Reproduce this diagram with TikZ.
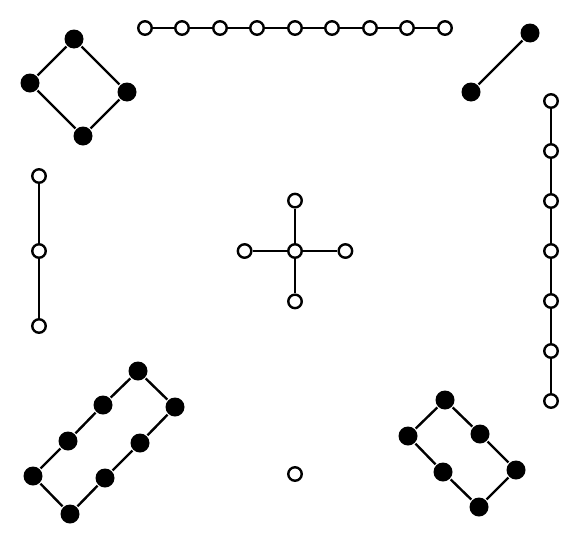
\documentclass[tikz,border=0pt]{standalone}
\usepackage{tikz}
\usetikzlibrary{positioning}

\begin{document}
\begin{tikzpicture}[x=1pt,y=-1pt,line width=2.4pt,
  wdot/.style={circle,draw,fill=white,inner sep=0pt,minimum size=13.5pt},
  bdot/.style={circle,fill=black,inner sep=0pt,minimum size=19pt}]
\useasboundingbox (0,0) rectangle (583,541);

% top row
\foreach \i/\x in {1/145,2/182,3/220,4/257,5/295,6/332,7/370,8/407,9/445}
  \node [wdot] (t\i) at (\x,28) {};
\foreach \i [evaluate=\i as \j using int(\i+1)] in {1,...,8}
  \draw (t\i) -- (t\j);

% right column
\foreach \i/\y in {1/101,2/151,3/201,4/251,5/301,6/351,7/401}
  \node [wdot] (r\i) at (551,\y) {};
\foreach \i [evaluate=\i as \j using int(\i+1)] in {1,...,6}
  \draw (r\i) -- (r\j);

% left column
\node [wdot] (l1) at (39,176) {};
\node [wdot] (l2) at (39,251) {};
\node [wdot] (l3) at (39,326) {};
\draw (l1) -- (l2) -- (l3);

% cross
\node [wdot] (c) at (295,251) {};
\node [wdot,above=34.5pt of c] (cn) {};
\node [wdot,below=34.5pt of c] (cs) {};
\node [wdot,left=34.5pt of c] (cw) {};
\node [wdot,right=34.5pt of c] (ce) {};
\draw (cn) -- (c) -- (cs);
\draw (cw) -- (c) -- (ce);

% lone node
\node [wdot] (lone) at (295,474) {};

% diamond
\node [bdot] (d1) at (74,39) {};
\node [bdot] (d2) at (127,92) {};
\node [bdot] (d3) at (83,136) {};
\node [bdot] (d4) at (30,83) {};
\draw (d1) -- (d2) -- (d3) -- (d4) -- (d1);

% edge top right
\node [bdot] (e1) at (530,33) {};
\node [bdot] (e2) at (471,92) {};
\draw (e1) -- (e2);

% long cycle bottom left
\node [bdot] (a1) at (138,371) {};
\node [bdot] (a2) at (103,405) {};
\node [bdot] (a3) at (68,441) {};
\node [bdot] (a4) at (33,476) {};
\node [bdot] (a5) at (70,514) {};
\node [bdot] (a6) at (105,478) {};
\node [bdot] (a7) at (140,443) {};
\node [bdot] (a8) at (175,407) {};
\draw (a1) -- (a2) -- (a3) -- (a4) -- (a5) -- (a6) -- (a7) -- (a8) -- (a1);

% short cycle bottom right
\node [bdot] (b1) at (445,400) {};
\node [bdot] (b2) at (480,434) {};
\node [bdot] (b3) at (516,470) {};
\node [bdot] (b4) at (479,507) {};
\node [bdot] (b5) at (443,472) {};
\node [bdot] (b6) at (408,436) {};
\draw (b1) -- (b2) -- (b3) -- (b4) -- (b5) -- (b6) -- (b1);
\end{tikzpicture}
\end{document}
